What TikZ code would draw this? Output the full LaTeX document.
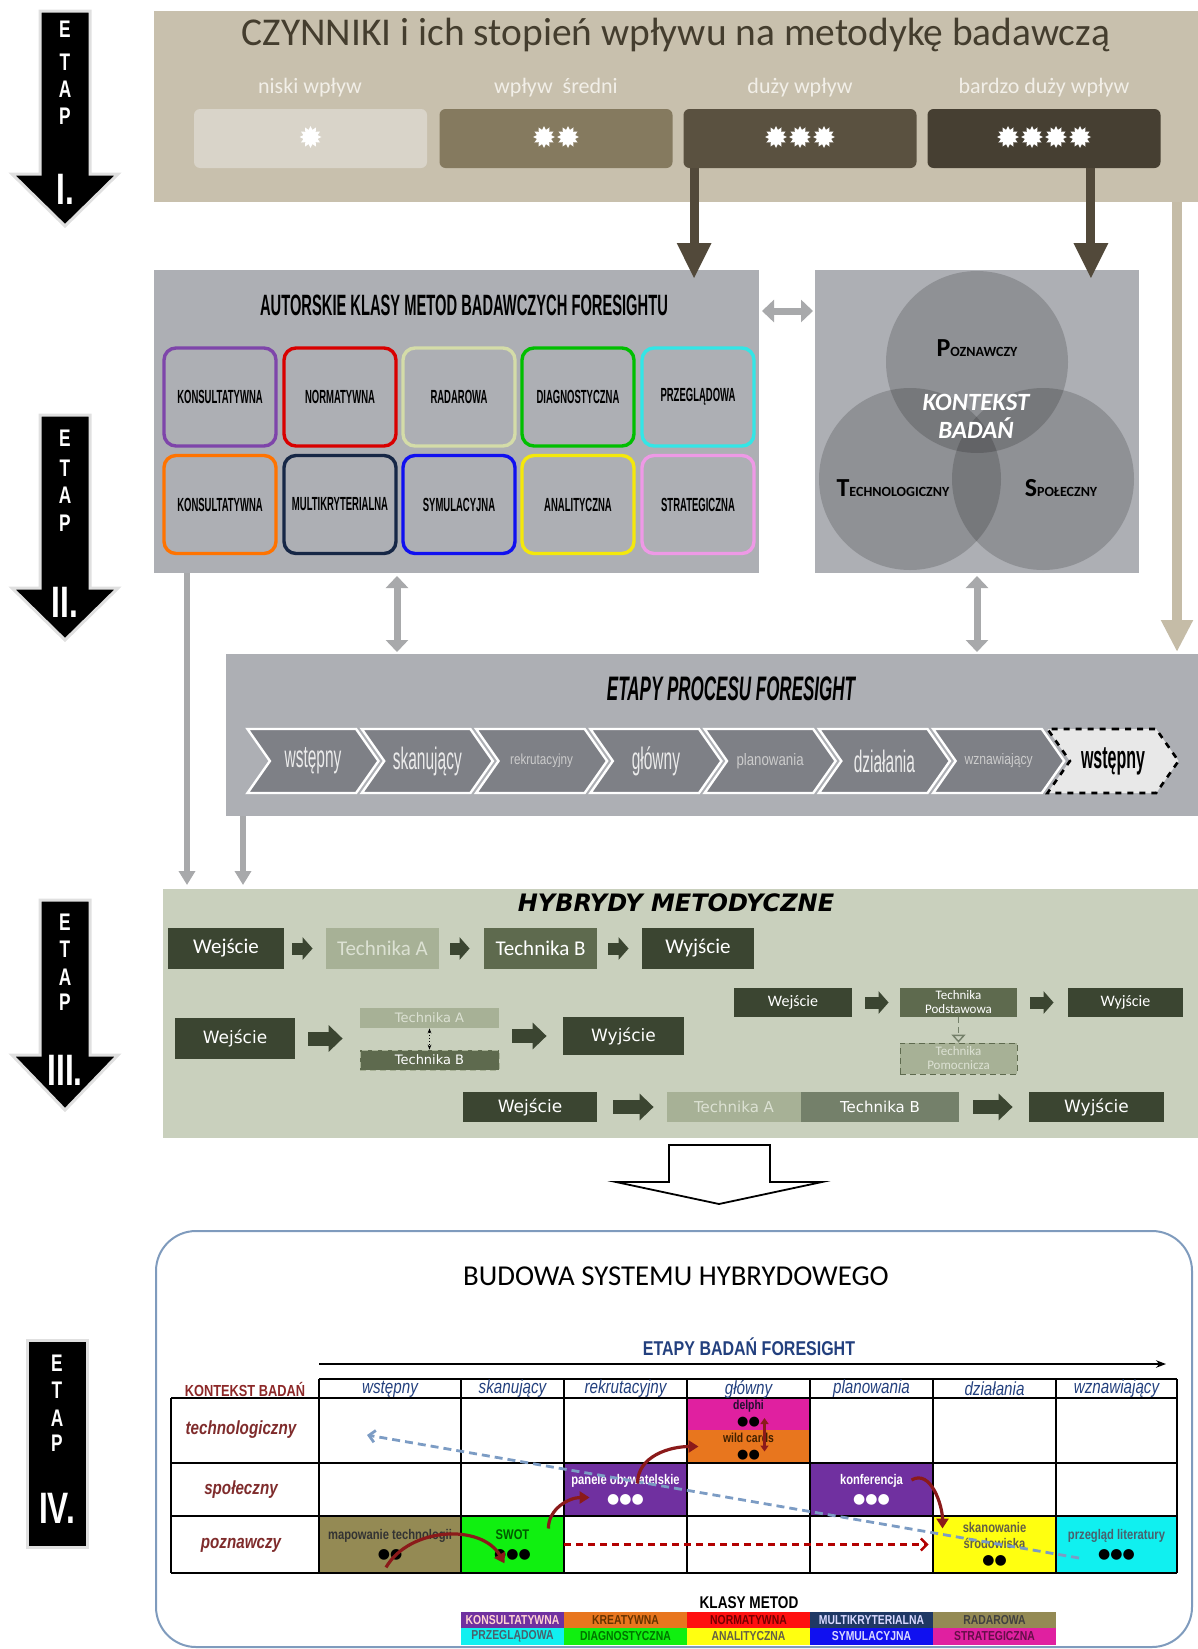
\documentclass[tikz,border=0pt]{standalone}
\usepackage{fontspec}
\setmainfont{Carlito}
\newfontfamily\condfont[FakeStretch=0.5]{Liberation Sans}
\newfontfamily\etapfont[FakeStretch=0.72]{Liberation Sans}
\newfontfamily\narrowfont[FakeStretch=0.8]{Liberation Sans}
\newfontfamily\vfont{DejaVu Sans}
\usetikzlibrary{arrows.meta}
\usetikzlibrary{shapes.geometric}
\usetikzlibrary{shapes.symbols}

\definecolor{czpanel}{HTML}{C8C0AD}
\definecolor{cztext}{HTML}{443D2E}
\definecolor{czlabel}{HTML}{F2EFE8}
\definecolor{impact1}{HTML}{D9D4C9}
\definecolor{impact2}{HTML}{857A5F}
\definecolor{impact3}{HTML}{5A5140}
\definecolor{impact4}{HTML}{463F32}
\definecolor{browncol}{HTML}{52493A}
\definecolor{tancol}{HTML}{C5BCA7}
\definecolor{panelgrey}{HTML}{ADAFB4}
\definecolor{greycol}{HTML}{A8A9AB}
\definecolor{chevcol}{HTML}{7E8086}
\definecolor{hpanel}{HTML}{C9D0BD}
\definecolor{hdark}{HTML}{3B4531}
\definecolor{hlight}{HTML}{A7B196}
\definecolor{hlighttext}{HTML}{DCE1D3}
\definecolor{hmid}{HTML}{5E6A4E}
\definecolor{hmidlight}{HTML}{74806A}
\definecolor{framecol}{HTML}{7F9BBD}
\definecolor{stageblue}{HTML}{23407E}
\definecolor{ctxred}{HTML}{7F2C2C}
\definecolor{arrowred}{HTML}{8B1A1A}
\definecolor{dashblue}{HTML}{7C9CC4}
\definecolor{cpurple}{HTML}{7030A0}
\definecolor{corange}{HTML}{E8761E}
\definecolor{cred}{HTML}{FF1010}
\definecolor{cnavy}{HTML}{1F3864}
\definecolor{ckhaki}{HTML}{948A54}
\definecolor{ccyan}{HTML}{10F0F0}
\definecolor{cgreen}{HTML}{10F010}
\definecolor{cyellow}{HTML}{FFFF10}
\definecolor{cblue}{HTML}{1010F0}
\definecolor{cmagenta}{HTML}{E020A0}

\tikzstyle{panel}=[inner sep=0, outer sep=0]
\tikzstyle{etaparrow}=[fill=black, draw=black!12, line width=1.5pt, line join=miter]
\tikzstyle{etapletter}=[text=white, inner sep=0, font=\etapfont\bfseries\fontsize{12}{12}\selectfont]
\tikzstyle{etapnum}=[text=white, inner sep=0, font=\etapfont\bfseries\fontsize{22}{22}\selectfont]
\tikzstyle{impactlabel}=[text=czlabel, inner sep=0, font=\fontsize{11}{11}\selectfont]
\tikzstyle{impact}=[rounded corners=3pt, inner sep=0, minimum width=116.5pt, minimum height=29.5pt]
\tikzstyle{spark}=[star, star points=12, star point ratio=1.5, fill=white, inner sep=0, minimum size=11pt]
\tikzstyle{darrow}=[draw=browncol, line width=4.5pt, -{Triangle[length=18pt, width=16pt]}]
\tikzstyle{tanarrow}=[draw=tancol, line width=5pt, -{Triangle[length=16pt, width=15pt]}]
\tikzstyle{greyarrow}=[draw=greycol, line width=3pt, -{Triangle[length=7pt, width=8pt]}]
\tikzstyle{greydouble}=[draw=greycol, line width=3.5pt, {Triangle[length=6pt, width=11pt]}-{Triangle[length=6pt, width=11pt]}]
\tikzstyle{klasa}=[draw, line width=1.7pt, rounded corners=6pt, minimum width=56pt, minimum height=49pt, inner sep=0, font=\condfont\bfseries\fontsize{9.5}{9.5}\selectfont]
\tikzstyle{venn}=[circle, fill=black, fill opacity=0.17, inner sep=0, minimum size=91pt]
\tikzstyle{chevron}=[signal, signal to=east, signal from=west, signal pointer angle=110, fill=chevcol, draw=white, line width=1.2pt, minimum width=65.5pt, minimum height=32pt, inner sep=0, text=black!8]
\tikzstyle{hbox}=[inner sep=0, text=white, align=center]
\tikzstyle{harrow}=[draw=hdark, line width=6pt, -{Triangle[length=5pt, width=11pt]}]
\tikzstyle{hbigarrow}=[draw=hdark, line width=7pt, -{Triangle[length=7pt, width=13pt]}]
\tikzstyle{cell}=[inner sep=0, align=center, font=\narrowfont\bfseries\fontsize{7}{9.5}\selectfont]
\tikzstyle{stagehead}=[inner sep=0, text=stageblue, font=\narrowfont\itshape\fontsize{9.5}{9.5}\selectfont]
\tikzstyle{rowhead}=[inner sep=0, text=ctxred, font=\narrowfont\bfseries\itshape\fontsize{9.5}{9.5}\selectfont]
\tikzstyle{redarrow}=[draw=arrowred, line width=1.6pt, -{Triangle[length=5pt, width=6pt]}]
\tikzstyle{legend}=[inner sep=0, minimum height=8.2pt, font=\narrowfont\bfseries\fontsize{6.5}{6.5}\selectfont]

\begin{document}
\begin{tikzpicture}[x=0.5pt, y=-0.5pt]
\useasboundingbox (0,0) rectangle (1198,1649);

\draw[etaparrow] (40,11) -- (90,11) -- (90,174) -- (118,174) -- (65,226) -- (12,174) -- (40,174) -- cycle;
\node[etapletter] (e1E) at (65,29) {E};
\node[etapletter] (e1T) at (65,62) {T};
\node[etapletter] (e1A) at (65,89) {A};
\node[etapletter] (e1P) at (65,116) {P};
\node[etapnum] (e1num) at (65,189) {I.};

\draw[etaparrow] (40,415) -- (90,415) -- (90,588) -- (118,588) -- (65,640) -- (12,588) -- (40,588) -- cycle;
\node[etapletter] (e2E) at (65,438) {E};
\node[etapletter] (e2T) at (65,468) {T};
\node[etapletter] (e2A) at (65,495) {A};
\node[etapletter] (e2P) at (65,523) {P};
\node[etapnum] (e2num) at (65,602) {II.};

\draw[etaparrow] (40,900) -- (90,900) -- (90,1055) -- (118,1055) -- (65,1110) -- (12,1055) -- (40,1055) -- cycle;
\node[etapletter] (e3E) at (65,922) {E};
\node[etapletter] (e3T) at (65,949) {T};
\node[etapletter] (e3A) at (65,977) {A};
\node[etapletter] (e3P) at (65,1002) {P};
\node[etapnum] (e3num) at (65,1070) {III.};

\node[etaparrow, minimum width=30pt, minimum height=103.5pt, inner sep=0] (etap4) at (57,1443.5) {};
\node[etapletter] (e4E) at (57,1363) {E};
\node[etapletter] (e4T) at (57,1390) {T};
\node[etapletter] (e4A) at (57,1418) {A};
\node[etapletter] (e4P) at (57,1443) {P};
\node[etapnum] (e4num) at (57,1508) {IV.};

\node[panel, fill=czpanel, minimum width=522pt, minimum height=95.5pt] (czynniki) at (676,106.5) {};
\node[text=cztext, inner sep=0, font=\fontsize{19.7}{20}\selectfont] (czTitle) at (676,35) {CZYNNIKI i ich stopień wpływu na metodykę badawczą};
\node[impactlabel] (w1) at (310,88) {niski wpływ};
\node[impactlabel] (w2) at (556,88) {wpływ\ \ średni};
\node[impactlabel] (w3) at (800,88) {duży wpływ};
\node[impactlabel] (w4) at (1044,88) {bardzo duży wpływ};
\node[impact, fill=impact1] (b1) at (310.5,138.5) {};
\node[impact, fill=impact2] (b2) at (556,138.5) {};
\node[impact, fill=impact3] (b3) at (800,138.5) {};
\node[impact, fill=impact4] (b4) at (1044,138.5) {};
\node[spark] (s1a) at (310.5,137) {};
\node[spark] (s2a) at (544,137) {};
\node[spark] (s2b) at (568,137) {};
\node[spark] (s3a) at (776,137) {};
\node[spark] (s3b) at (800,137) {};
\node[spark] (s3c) at (824,137) {};
\node[spark] (s4a) at (1008,137) {};
\node[spark] (s4b) at (1032,137) {};
\node[spark] (s4c) at (1056,137) {};
\node[spark] (s4d) at (1080,137) {};

\node[panel, fill=panelgrey, minimum width=302.5pt, minimum height=151.5pt] (klasy) at (456.5,421.5) {};
\node[inner sep=0, font=\condfont\bfseries\fontsize{14.7}{15}\selectfont] (klasyTitle) at (464,305) {AUTORSKIE KLASY METOD BADAWCZYCH FORESIGHTU};
\node[klasa, draw=cpurple!90] (k1) at (220,397) {KONSULTATYWNA};
\node[klasa, draw=red!85!black] (k2) at (340,397) {NORMATYWNA};
\node[klasa, draw={rgb,255:red,212;green,220;blue,168}] (k3) at (459,397) {RADAROWA};
\node[klasa, draw=green!75!black] (k4) at (578,397) {DIAGNOSTYCZNA};
\node[klasa, draw={rgb,255:red,51;green,230;blue,230}] (k5) at (698,397) {PRZEGLĄDOWA};
\node[klasa, draw=orange!90!red] (k6) at (220,504.5) {KONSULTATYWNA};
\node[klasa, draw=cnavy!70!black] (k7) at (340,504.5) {MULTIKRYTERIALNA};
\node[klasa, draw=cblue] (k8) at (459,504.5) {SYMULACYJNA};
\node[klasa, draw=yellow!95!black] (k9) at (578,504.5) {ANALITYCZNA};
\node[klasa, draw={rgb,255:red,238;green,153;blue,230}] (k10) at (698,504.5) {STRATEGICZNA};

\node[panel, fill=panelgrey, minimum width=162pt, minimum height=151.5pt] (kontekst) at (977,421.5) {};
\node[venn] (vPoz) at (977,362) {};
\node[venn] (vTech) at (910,479) {};
\node[venn] (vSpol) at (1043,479) {};
\node[inner sep=0, font=\bfseries] (lPoz) at (977,348) {{\fontsize{13}{13}\selectfont P}{\fontsize{7}{7}\selectfont OZNAWCZY}};
\node[inner sep=0, font=\bfseries] (lTech) at (893,488) {{\fontsize{13}{13}\selectfont T}{\fontsize{7}{7}\selectfont ECHNOLOGICZNY}};
\node[inner sep=0, font=\bfseries] (lSpol) at (1061,488) {{\fontsize{13}{13}\selectfont S}{\fontsize{7}{7}\selectfont POŁECZNY}};
\node[inner sep=0, text=white, align=center, font=\bfseries\itshape\fontsize{12.4}{14}\selectfont] (lKontekst) at (976,416) {KONTEKST\\BADAŃ};

\draw[greydouble] ([xshift=1.5pt, yshift=-20.5pt]klasy.north east) -- ([xshift=-1pt, yshift=-20.5pt]kontekst.north west);

\node[panel, fill=panelgrey, minimum width=486pt, minimum height=81pt] (etapy) at (712,735) {};
\node[inner sep=0, font=\condfont\bfseries\itshape\fontsize{17}{17}\selectfont] (etapyTitle) at (731,689) {ETAPY PROCESU FORESIGHT};
\node[chevron, font=\condfont\fontsize{15.5}{15.5}\selectfont] (c1) at (313,761) {wstępny};
\node[chevron, font=\condfont\fontsize{15.5}{15.5}\selectfont] (c2) at (427.3,761) {skanujący};
\node[chevron, font=\narrowfont\fontsize{7.3}{7.3}\selectfont, text=black!20] (c3) at (541.6,761) {rekrutacyjny};
\node[chevron, font=\condfont\fontsize{15.5}{15.5}\selectfont] (c4) at (655.9,761) {główny};
\node[chevron, font=\narrowfont\fontsize{8.3}{8.3}\selectfont, text=black!20] (c5) at (770.1,761) {planowania};
\node[chevron, font=\condfont\fontsize{15.5}{15.5}\selectfont] (c6) at (884.4,761) {działania};
\node[chevron, font=\narrowfont\fontsize{7.6}{7.6}\selectfont, text=black!20] (c7) at (998.7,761) {wznawiający};
\node[chevron, fill=black!9, draw=black, dashed, line width=1.3pt, text=black, font=\condfont\bfseries\fontsize{16}{16}\selectfont] (c8) at (1113,761) {wstępny};

\draw[darrow] ([xshift=5.5pt]b3.south west) -- ([xshift=5.5pt, yshift=-4.5pt]b3.south west |- klasy.north);
\draw[darrow] ([xshift=-35pt]b4.south east) -- ([xshift=-35pt, yshift=-4.5pt]b4.south east |- kontekst.north);
\draw[tanarrow] ([xshift=-10.5pt]czynniki.south east) -- ([xshift=-10.5pt, yshift=1pt]etapy.north east);
\draw[greydouble] ([xshift=121.5pt, yshift=-1.5pt]klasy.south west) -- ([xshift=121.5pt, yshift=1pt]klasy.south west |- etapy.north);
\draw[greydouble] ([yshift=-1.5pt]kontekst.south) -- ([yshift=1pt]kontekst.south |- etapy.north);

\node[panel, fill=hpanel, minimum width=517.5pt, minimum height=124.5pt] (hybrydy) at (680.5,1013.5) {};
\draw[greyarrow] ([xshift=16.5pt]klasy.south west) -- ([xshift=16.5pt, yshift=2pt]klasy.south west |- hybrydy.north);
\draw[greyarrow] ([xshift=8.5pt]etapy.south west) -- ([xshift=8.5pt, yshift=2pt]etapy.south west |- hybrydy.north);
\node[inner sep=0, font=\vfont\bfseries\itshape\fontsize{12}{12}\selectfont] (hybrydyTitle) at (676,903) {HYBRYDY METODYCZNE};

\node[hbox, fill=hdark, minimum width=58pt, minimum height=20.5pt, font=\fontsize{10.5}{10.5}\selectfont] (h1in) at (226,948.5) {Wejście};
\node[hbox, fill=hlight, text=hlighttext, minimum width=56.5pt, minimum height=20.5pt, font=\fontsize{10.5}{10.5}\selectfont] (h1a) at (382.5,948.5) {Technika A};
\node[hbox, fill=hmid, minimum width=56.5pt, minimum height=20.5pt, font=\fontsize{10.5}{10.5}\selectfont] (h1b) at (540.5,948.5) {Technika B};
\node[hbox, fill=hdark, minimum width=56pt, minimum height=20.5pt, font=\fontsize{10.5}{10.5}\selectfont] (h1out) at (698,948.5) {Wyjście};
\draw[harrow, shorten <=4pt, shorten >=6.5pt] (h1in) -- (h1a);
\draw[harrow, shorten <=5.5pt, shorten >=7pt] (h1a) -- (h1b);
\draw[harrow, shorten <=5.5pt, shorten >=6.5pt] (h1b) -- (h1out);

\node[hbox, fill=hdark, minimum width=60pt, minimum height=20.5pt, font=\vfont\fontsize{8.5}{8.5}\selectfont] (h2in) at (235,1038.5) {Wejście};
\node[hbox, fill=hlight, text=hlighttext, minimum width=69.5pt, minimum height=10pt, font=\vfont\fontsize{6.5}{6.5}\selectfont] (h2a) at (429.5,1018) {Technika A};
\node[hbox, fill=hmid, draw=hlight, densely dashed, minimum width=69.5pt, minimum height=10pt, font=\vfont\fontsize{6.5}{6.5}\selectfont] (h2b) at (429.5,1060) {Technika B};
\node[hbox, fill=hdark, minimum width=60.5pt, minimum height=19pt, font=\vfont\fontsize{8.5}{8.5}\selectfont] (h2out) at (623.5,1036) {Wyjście};
\draw[densely dotted, line width=0.6pt, {Stealth[length=2.5pt]}-{Stealth[length=2.5pt]}] (h2a.south) -- (h2b.north);
\draw[hbigarrow, shorten <=6.5pt, shorten >=8.5pt] (h2in.east) -- (h2in.east -| h2a.west);
\draw[hbigarrow, shorten <=6.5pt, shorten >=8pt] (h2out.west -| h2a.east) -- (h2out.west);

\node[hbox, fill=hdark, minimum width=59pt, minimum height=14.5pt, font=\fontsize{8}{8}\selectfont] (h3in) at (793,1002.5) {Wejście};
\node[hbox, fill=hmid, minimum width=58.5pt, minimum height=14.5pt, font=\fontsize{6.5}{7}\selectfont] (h3base) at (958.5,1002.5) {Technika\\Podstawowa};
\node[hbox, fill=hdark, minimum width=57.5pt, minimum height=14.5pt, font=\fontsize{8}{8}\selectfont] (h3out) at (1125.5,1002.5) {Wyjście};
\node[hbox, fill=hlight, text=hlighttext, draw=hmid, densely dashed, minimum width=58.5pt, minimum height=15.5pt, font=\fontsize{6.5}{7}\selectfont] (h3aux) at (958.5,1058.5) {Technika\\Pomocnicza};
\draw[harrow, shorten <=6.5pt, shorten >=5.5pt] (h3in) -- (h3base);
\draw[harrow, shorten <=6.5pt, shorten >=7pt] (h3base) -- (h3out);
\draw[draw=hmidlight, densely dashed, line width=0.7pt, -{Triangle[open, length=4pt, width=7pt]}] (h3base.south) -- (h3aux.north);

\node[hbox, fill=hdark, minimum width=67pt, minimum height=15pt, font=\vfont\fontsize{8.5}{8.5}\selectfont] (h4in) at (530,1107) {Wejście};
\node[hbox, fill=hlight, text=hlighttext, minimum width=67pt, minimum height=15pt, font=\vfont\fontsize{7.5}{7.5}\selectfont] (h4a) at (734,1107) {Technika A};
\node[hbox, fill=hmidlight, minimum width=79pt, minimum height=15pt, font=\vfont\fontsize{7.5}{7.5}\selectfont] (h4b) at (880,1107) {Technika B};
\node[hbox, fill=hdark, minimum width=67.5pt, minimum height=15pt, font=\vfont\fontsize{8.5}{8.5}\selectfont] (h4out) at (1096.5,1107) {Wyjście};
\draw[hbigarrow, shorten <=8pt, shorten >=6.5pt] (h4in) -- (h4a);
\draw[hbigarrow, shorten <=7pt, shorten >=8pt] (h4b) -- (h4out);

\draw[fill=white, line width=0.9pt, line join=miter] (669,1145) -- (770,1145) -- (770,1182) -- (822,1182) -- (719,1204) -- (616,1182) -- (669,1182) -- cycle;

\node[draw=framecol, line width=1pt, rounded corners=20pt, minimum width=518pt, minimum height=208pt, inner sep=0] (budowa) at (674,1439) {};
\node[inner sep=0, font=\fontsize{14.4}{14.4}\selectfont] (budowaTitle) at (676,1276) {BUDOWA SYSTEMU HYBRYDOWEGO};
\node[inner sep=0, text=stageblue, font=\narrowfont\bfseries\fontsize{10}{10}\selectfont] (etapyBadan) at (749,1347) {ETAPY BADAŃ FORESIGHT};
\coordinate (axisStart) at (319,1364);
\coordinate (axisEnd) at (1166,1364);
\draw[line width=0.8pt, -{Stealth[length=5pt]}] (axisStart) -- (axisEnd);

\node[cell, fill=cmagenta, text=black!70!cpurple, minimum width=61.5pt, minimum height=16pt, font=\narrowfont\bfseries\fontsize{6.5}{8}\selectfont] (delphi) at (748.5,1414) {delphi\\{\vfont\textcolor{black}{●●}}};
\node[cell, fill=corange, text=black!75!orange, minimum width=61.5pt, minimum height=16.5pt, font=\narrowfont\bfseries\fontsize{6.5}{8}\selectfont] (wildcards) at (748.5,1446.5) {wild cards\\{\vfont\textcolor{black}{●●}}};
\node[cell, fill=cpurple, text=white, minimum width=61.5pt, minimum height=26.5pt] (panele) at (625.5,1489.5) {panele obywatelskie\\{\vfont ●●●}};
\node[cell, fill=cpurple, text=white, minimum width=61.5pt, minimum height=26.5pt] (konferencja) at (871.5,1489.5) {konferencja\\{\vfont ●●●}};
\node[cell, fill=ckhaki, text=black!80, minimum width=71pt, minimum height=28.5pt] (mapowanie) at (390,1544.5) {mapowanie technologii\\{\vfont\textcolor{black}{●●}}};
\node[cell, fill=cgreen, text=black!65!green, minimum width=51.5pt, minimum height=28.5pt] (swot) at (512.5,1544.5) {SWOT\\{\vfont\textcolor{black}{●●●}}};
\node[cell, fill=cyellow, text=black!70!yellow, minimum width=61.5pt, minimum height=28.5pt, font=\narrowfont\bfseries\fontsize{7}{8}\selectfont] (skanowanie) at (994.5,1544.5) {skanowanie\\środowiska\\{\vfont\textcolor{black}{●●}}};
\node[cell, fill=ccyan, text=black!65!cyan, minimum width=60.5pt, minimum height=28.5pt] (przeglad) at (1116.5,1544.5) {przegląd literatury\\{\vfont\textcolor{black}{●●●}}};

\draw[line width=1.2pt] (319,1379) -- (1177,1379);
\draw[line width=1.2pt] (171,1398) -- (1177,1398);
\draw[line width=0.6pt] (171,1463) -- (1177,1463) (171,1516) -- (1177,1516);
\draw[line width=1.2pt] (171,1573) -- (1177,1573);
\draw[line width=0.6pt] (171,1398) -- (171,1573) (319,1379) -- (319,1573) (461,1379) -- (461,1573) (564,1379) -- (564,1573) (687,1379) -- (687,1573) (810,1379) -- (810,1573) (933,1379) -- (933,1573) (1056,1379) -- (1056,1573);
\draw[line width=1.2pt] (1177,1379) -- (1177,1573);

\node[inner sep=0, text=ctxred!90!red, font=\narrowfont\bfseries\fontsize{8}{8}\selectfont] (ctxHead) at (245,1389) {KONTEKST BADAŃ};
\node[stagehead] (th1) at (390,1389) {wstępny};
\node[stagehead] (th2) at (512.5,1389) {skanujący};
\node[stagehead] (th3) at (625.5,1389) {rekrutacyjny};
\node[stagehead] (th4) at (748.5,1389) {główny};
\node[stagehead] (th5) at (871.5,1389) {planowania};
\node[stagehead] (th6) at (994.5,1389) {działania};
\node[stagehead] (th7) at (1116.5,1389) {wznawiający};
\node[rowhead] (rTech) at (241,1430) {technologiczny};
\node[rowhead] (rSpol) at (241,1489.5) {społeczny};
\node[rowhead] (rPoz) at (241,1545) {poznawczy};

\coordinate (blueEnd) at (367,1435);
\draw[draw=dashblue, line width=1.4pt, dash pattern=on 4pt off 2.5pt, -{Straight Barb[length=3pt]}] ([xshift=-18.75pt, yshift=-6.75pt]przeglad.center) -- (blueEnd);
\draw[draw=red!70!black, line width=1.2pt, dash pattern=on 3.5pt off 2.5pt, -{Straight Barb[length=3pt]}] (swot.east) -- ([xshift=-2pt]skanowanie.west);
\draw[redarrow] ([xshift=-2pt, yshift=3pt]mapowanie.south) to[out=60, in=120] ([xshift=-4pt, yshift=5pt]swot.south);
\draw[redarrow] ([xshift=-8pt, yshift=8pt]swot.east) to[out=90, in=180] ([xshift=13pt, yshift=-4pt]panele.west);
\draw[redarrow] ([xshift=6pt, yshift=3pt]panele.center) to[out=90, in=180] ([xshift=-25pt]wildcards.center);
\draw[line width=1.3pt, draw=arrowred, {Triangle[length=3pt, width=4pt]}-{Triangle[length=3pt, width=4pt]}] ([xshift=8pt, yshift=-2pt]delphi.center) -- ([xshift=8pt, yshift=-2.5pt]wildcards.center);
\draw[redarrow] ([xshift=20pt, yshift=4.75pt]konferencja.center) to[out=30, in=90] ([xshift=-26pt, yshift=8pt]skanowanie.center);

\node[inner sep=0, font=\narrowfont\bfseries\fontsize{8.5}{8.5}\selectfont] (klasyMetod) at (749,1603) {KLASY METOD};
\node[legend, fill=cpurple, text=pink!70, minimum width=51.5pt] (lg1) at (512.5,1620) {KONSULTATYWNA};
\node[legend, fill=corange, text=black!60!orange, minimum width=61.5pt] (lg2) at (625.5,1620) {KREATYWNA};
\node[legend, fill=cred, text=black!55!red, minimum width=61.5pt] (lg3) at (748.5,1620) {NORMATYWNA};
\node[legend, fill=cnavy, text=white!85!blue, minimum width=61.5pt] (lg4) at (871.5,1620) {MULTIKRYTERIALNA};
\node[legend, fill=ckhaki, text=black!75, minimum width=61.5pt] (lg5) at (994.5,1620) {RADAROWA};
\node[legend, fill=ccyan, text=cyan!35!black, minimum width=51.5pt] (lg6) at (512.5,1636.5) {PRZEGLĄDOWA};
\node[legend, fill=cgreen, text=black!55!green, minimum width=61.5pt] (lg7) at (625.5,1636.5) {DIAGNOSTYCZNA};
\node[legend, fill=cyellow, text=black!70!yellow, minimum width=61.5pt] (lg8) at (748.5,1636.5) {ANALITYCZNA};
\node[legend, fill=cblue, text=white!85!blue, minimum width=61.5pt] (lg9) at (871.5,1636.5) {SYMULACYJNA};
\node[legend, fill=cmagenta, text=cmagenta!45!black, minimum width=61.5pt] (lg10) at (994.5,1636.5) {STRATEGICZNA};
\end{tikzpicture}
\end{document}
